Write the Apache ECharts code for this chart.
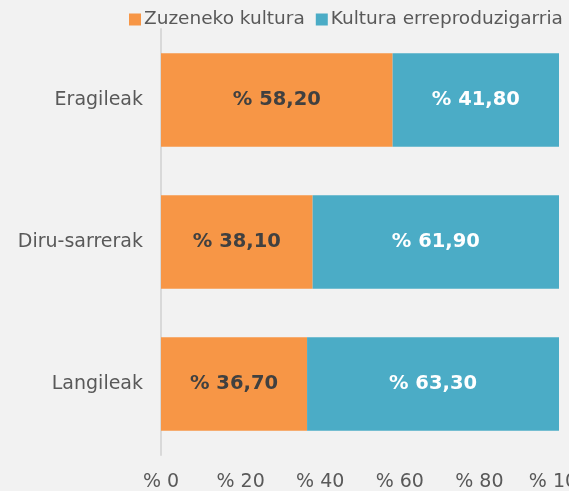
<!DOCTYPE html>
<html>
<head>
<meta charset="utf-8">
<script src="https://cdn.jsdelivr.net/npm/echarts@6/dist/echarts.min.js"></script>
<style>
  html, body { margin: 0; padding: 0; background: #f2f2f2; overflow: hidden; }
  #chart { width: 569px; height: 491px; }
</style>
</head>
<body>
<div id="chart"></div>
<script>
const categories = ['Eragileak', 'Diru-sarrerak', 'Langileak'];
const zuzenekoa = [58.2, 38.1, 36.7];
const erreproduzigarria = [41.8, 61.9, 63.3];
const seriesNames = ['Zuzeneko kultura', 'Kultura erreproduzigarria'];

const font = "'DejaVu Sans', Verdana, sans-serif";
const fmt = v => '% ' + v.toFixed(2).replace('.', ',');

const chart = echarts.init(document.getElementById('chart'));
chart.setOption({
  backgroundColor: '#f2f2f2',
  animation: false,
  textStyle: { fontFamily: font },
  legend: {
    left: 129,
    top: 10,
    padding: 0,
    width: 900,
    itemWidth: 12,
    itemHeight: 12,
    itemGap: 11,
    icon: 'rect',
    textStyle: { fontFamily: font, fontSize: 18.5, color: '#595959', padding: [0, 0, 0, -2] },
    data: seriesNames
  },
  grid: { left: 161, right: 10, top: 29, bottom: 36, outerBoundsMode: 'none', containLabel: false },
  xAxis: {
    type: 'value',
    min: 0,
    max: 100,
    interval: 20,
    axisLine: { show: false },
    axisTick: { show: false },
    splitLine: { show: false },
    axisLabel: {
      margin: 18,
      fontFamily: font,
      fontSize: 19,
      color: '#595959',
      formatter: v => '% ' + v
    }
  },
  yAxis: {
    type: 'category',
    inverse: true,
    data: categories,
    axisLine: { show: true, lineStyle: { color: '#d9d9d9', width: 2 } },
    axisTick: { show: false },
    axisLabel: { margin: 18, fontFamily: font, fontSize: 19, color: '#595959' }
  },
  series: [
    {
      name: seriesNames[0],
      type: 'bar',
      stack: 'total',
      barWidth: '66%',
      data: zuzenekoa,
      itemStyle: { color: '#f79646' },
      label: {
        show: true,
        position: 'inside',
        fontFamily: font,
        fontSize: 19.5,
        fontWeight: 'bold',
        color: '#404040',
        formatter: p => fmt(p.value)
      }
    },
    {
      name: seriesNames[1],
      type: 'bar',
      stack: 'total',
      barWidth: '66%',
      data: erreproduzigarria,
      itemStyle: { color: '#4bacc6' },
      label: {
        show: true,
        position: 'inside',
        fontFamily: font,
        fontSize: 19.5,
        fontWeight: 'bold',
        color: '#ffffff',
        formatter: p => fmt(p.value)
      }
    }
  ]
});
</script>
</body>
</html>
